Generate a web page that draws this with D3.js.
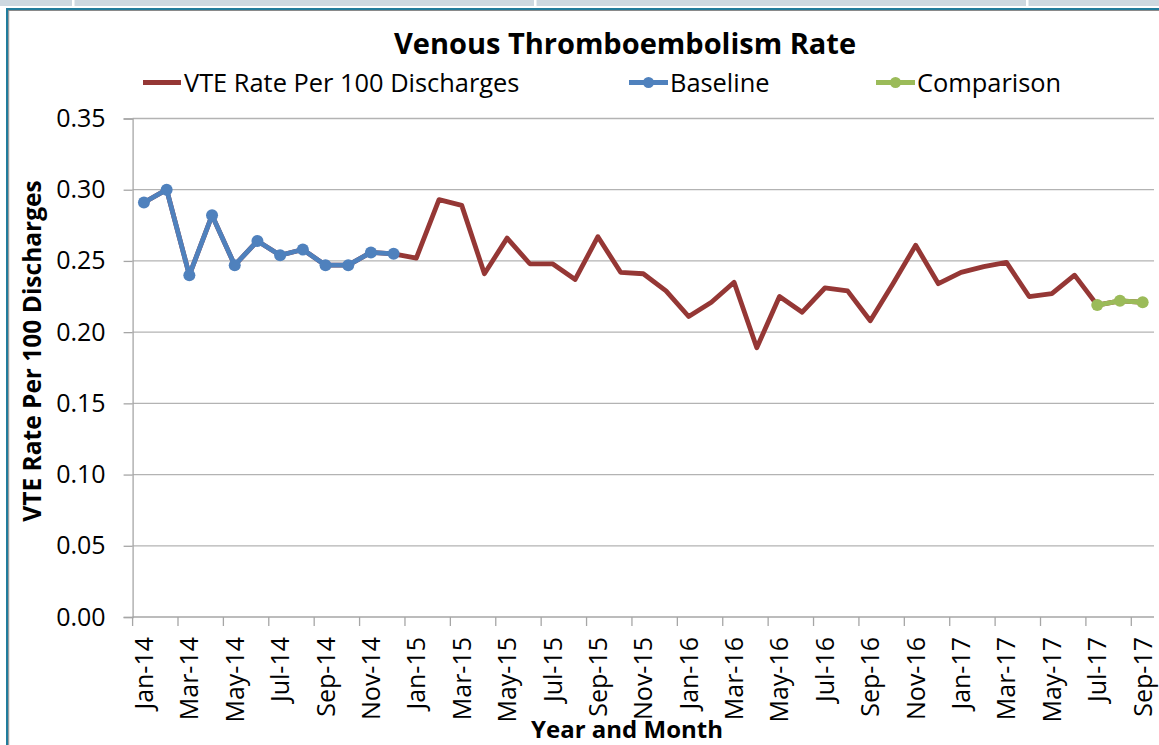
<!DOCTYPE html>
<html>
<head>
<meta charset="utf-8">
<script src="https://cdn.jsdelivr.net/npm/d3@7"></script>
<style>
  html, body { margin: 0; padding: 0; background: #ffffff; }
  svg { display: block; }
  text { font-family: "Open Sans", Lato, sans-serif; fill: #000; }
</style>
</head>
<body>
<script>
const months = [
  "Jan-14","Feb-14","Mar-14","Apr-14","May-14","Jun-14","Jul-14","Aug-14","Sep-14","Oct-14","Nov-14","Dec-14",
  "Jan-15","Feb-15","Mar-15","Apr-15","May-15","Jun-15","Jul-15","Aug-15","Sep-15","Oct-15","Nov-15","Dec-15",
  "Jan-16","Feb-16","Mar-16","Apr-16","May-16","Jun-16","Jul-16","Aug-16","Sep-16","Oct-16","Nov-16","Dec-16",
  "Jan-17","Feb-17","Mar-17","Apr-17","May-17","Jun-17","Jul-17","Aug-17","Sep-17"
];
const vteRate = [
  0.291, 0.300, 0.240, 0.282, 0.247, 0.264, 0.254, 0.258, 0.247, 0.247, 0.256, 0.255,
  0.252, 0.293, 0.289, 0.241, 0.266, 0.248, 0.248, 0.237, 0.267, 0.242, 0.241, 0.229,
  0.211, 0.221, 0.235, 0.189, 0.225, 0.214, 0.231, 0.229, 0.208, 0.234, 0.261, 0.234,
  0.242, 0.246, 0.249, 0.225, 0.227, 0.240, 0.219, 0.222, 0.221
];
const baselineMonths = ["Jan-14","Feb-14","Mar-14","Apr-14","May-14","Jun-14","Jul-14","Aug-14","Sep-14","Oct-14","Nov-14","Dec-14"];
const baseline = [0.291, 0.300, 0.240, 0.282, 0.247, 0.264, 0.254, 0.258, 0.247, 0.247, 0.256, 0.255];
const comparisonMonths = ["Jul-17","Aug-17","Sep-17"];
const comparison = [0.219, 0.222, 0.221];
const yTicks = [0, 0.05, 0.10, 0.15, 0.20, 0.25, 0.30, 0.35];
const seriesNames = ["VTE Rate Per 100 Discharges", "Baseline", "Comparison"];
const titleText = "Venous Thromboembolism Rate";
const yTitle = "VTE Rate Per 100 Discharges";
const xTitle = "Year and Month";

const W = 1159, H = 745;
const colors = { vte: "#953735", base: "#4f81bd", comp: "#9bbb59" };
const plotL = 132.6, plotR = 1154, plotT = 118.5, plotB = 617;
const fontMain = "\"Open Sans\", Lato, sans-serif";

const svg = d3.select("body").append("svg").attr("width", W).attr("height", H);

// window frame
svg.append("rect").attr("x", 0).attr("y", 0).attr("width", W).attr("height", 6).attr("fill", "#cdd8e0");
[72, 534, 1026].forEach(xx => svg.append("rect").attr("x", xx).attr("y", 0).attr("width", 2.5).attr("height", 6).attr("fill", "#ffffff"));
svg.append("rect").attr("x", 6).attr("y", 8).attr("width", W - 6).attr("height", 2.2).attr("fill", "#217c9c");
svg.append("rect").attr("x", 8).attr("y", 10).attr("width", W - 8).attr("height", 1).attr("fill", "#8a8a8a");
svg.append("rect").attr("x", 6).attr("y", 8).attr("width", 2.2).attr("height", H - 8).attr("fill", "#217c9c");
svg.append("rect").attr("x", 8.2).attr("y", 10).attr("width", 1).attr("height", H - 10).attr("fill", "#8a8a8a");

const x = d3.scaleBand().domain(months).range([plotL, plotR]).padding(0);
const bw = x.bandwidth();
const cx = m => x(m) + bw / 2;
const y = d3.scaleLinear().domain([0, 0.35]).range([plotB, plotT]);

// gridlines
svg.append("g").selectAll("line").data(yTicks.filter(t => t > 0)).join("line")
  .attr("x1", plotL).attr("x2", plotR)
  .attr("y1", d => y(d)).attr("y2", d => y(d))
  .attr("stroke", "#b3b3b3").attr("stroke-width", 1.3);

// y axis
const yAxis = svg.append("g").attr("transform", `translate(${plotL},0)`)
  .call(d3.axisLeft(y).tickValues(yTicks).tickFormat(d3.format(".2f")).tickSize(9).tickPadding(18));
yAxis.select(".domain").attr("stroke", "#a6a6a6").attr("stroke-width", 1.3);
yAxis.selectAll(".tick line").attr("stroke", "#a6a6a6").attr("stroke-width", 1.3);
yAxis.selectAll(".tick text").attr("font-size", 25).attr("font-family", fontMain).attr("fill", "#000");

// x axis: ticks between categories every 2 months
const xAxisG = svg.append("g");
xAxisG.append("line").attr("x1", plotL).attr("x2", plotR).attr("y1", plotB).attr("y2", plotB)
  .attr("stroke", "#a6a6a6").attr("stroke-width", 1.3);
xAxisG.selectAll("line.tk").data(months.filter((m, i) => i % 2 === 0)).join("line").attr("class", "tk")
  .attr("x1", d => x(d)).attr("x2", d => x(d)).attr("y1", plotB).attr("y2", plotB + 9)
  .attr("stroke", "#a6a6a6").attr("stroke-width", 1.3);
xAxisG.selectAll("text").data(months.filter((m, i) => i % 2 === 0)).join("text")
  .attr("transform", d => `translate(${cx(d) + 9},${plotB + 20}) rotate(-90)`)
  .attr("text-anchor", "end").attr("font-size", 25).text(d => d);

// lines
const line = d3.line().x(d => cx(d.m)).y(d => y(d.v));
const vteData = months.map((m, i) => ({ m, v: vteRate[i] }));
const baseData = baselineMonths.map((m, i) => ({ m, v: baseline[i] }));
const compData = comparisonMonths.map((m, i) => ({ m, v: comparison[i] }));

svg.append("path").datum(vteData).attr("d", line).attr("fill", "none")
  .attr("stroke", colors.vte).attr("stroke-width", 4.8).attr("stroke-linejoin", "round");
svg.append("path").datum(baseData).attr("d", line).attr("fill", "none")
  .attr("stroke", colors.base).attr("stroke-width", 4.8).attr("stroke-linejoin", "round");
svg.append("g").selectAll("circle").data(baseData).join("circle")
  .attr("cx", d => cx(d.m)).attr("cy", d => y(d.v)).attr("r", 6).attr("fill", colors.base);
svg.append("path").datum(compData).attr("d", line).attr("fill", "none")
  .attr("stroke", colors.comp).attr("stroke-width", 4.8).attr("stroke-linejoin", "round");
svg.append("g").selectAll("circle").data(compData).join("circle")
  .attr("cx", d => cx(d.m)).attr("cy", d => y(d.v)).attr("r", 6).attr("fill", colors.comp);

// title
svg.append("text").attr("x", 625).attr("y", 54).attr("text-anchor", "middle")
  .attr("font-size", 29).attr("font-weight", "bold").text(titleText);

// legend
const lg = svg.append("g");
const legendItems = [
  { name: seriesNames[0], color: colors.vte, x1: 143, x2: 181, marker: false, tx: 184 },
  { name: seriesNames[1], color: colors.base, x1: 629, x2: 668, marker: true, tx: 670 },
  { name: seriesNames[2], color: colors.comp, x1: 876, x2: 915, marker: true, tx: 917 }
];
legendItems.forEach(it => {
  lg.append("line").attr("x1", it.x1).attr("x2", it.x2).attr("y1", 82.5).attr("y2", 82.5)
    .attr("stroke", it.color).attr("stroke-width", 4.8);
  if (it.marker) lg.append("circle").attr("cx", (it.x1 + it.x2) / 2).attr("cy", 82.5).attr("r", 5.5).attr("fill", it.color);
  lg.append("text").attr("x", it.tx).attr("y", 91.5).attr("font-size", 25.4).text(it.name);
});

// axis titles
svg.append("text").attr("transform", `translate(41,351) rotate(-90)`).attr("text-anchor", "middle")
  .attr("font-size", 24.5).attr("font-weight", "bold").text(yTitle);
svg.append("text").attr("x", 627).attr("y", 738).attr("text-anchor", "middle")
  .attr("font-size", 24).attr("font-weight", "bold").text(xTitle);
</script>
</body>
</html>
